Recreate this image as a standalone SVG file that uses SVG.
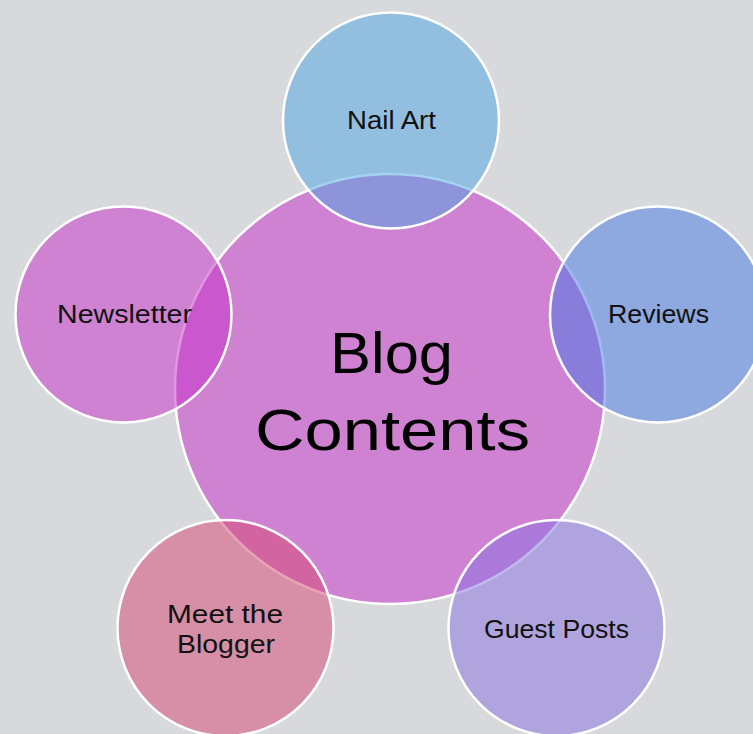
<svg xmlns="http://www.w3.org/2000/svg" width="753" height="734" viewBox="0 0 753 734">
  <style>
    .hub { fill: #cf82d2; stroke: #ffffff; stroke-width: 2.5; }
    .sat { stroke: #ffffff; stroke-width: 2.5; fill-opacity: 0.5; }
    .lbl { font-family: "Liberation Sans", Arial, sans-serif; font-size: 26px; fill: #111111; text-anchor: middle; }
    .big { font-family: "Liberation Sans", Arial, sans-serif; font-size: 58px; fill: #000000; text-anchor: middle; }
  </style>
  <rect x="0" y="0" width="753" height="734" fill="#d8d9dc"/>
  <g id="blog-contents">
    <circle class="hub" cx="390" cy="389" r="215"/>
    <text class="big" x="391.5" y="373" textLength="123" lengthAdjust="spacingAndGlyphs">Blog</text>
    <text class="big" x="392.5" y="450" textLength="275" lengthAdjust="spacingAndGlyphs">Contents</text>
  </g>
  <g id="nail-art">
    <circle class="sat" cx="391" cy="120.5" r="108" fill="#4ca5e2"/>
    <text class="lbl" x="391.5" y="129" textLength="89" lengthAdjust="spacingAndGlyphs">Nail Art</text>
  </g>
  <g id="reviews">
    <circle class="sat" cx="658" cy="314.5" r="108" fill="#4477e4"/>
    <text class="lbl" x="658.5" y="323" textLength="101" lengthAdjust="spacingAndGlyphs">Reviews</text>
  </g>
  <g id="newsletter">
    <circle class="sat" cx="123.5" cy="314.5" r="108" fill="#c62bc8"/>
    <text class="lbl" x="124.5" y="323" textLength="135" lengthAdjust="spacingAndGlyphs">Newsletter</text>
  </g>
  <g id="meet-the-blogger">
    <circle class="sat" cx="225.5" cy="628" r="108" fill="#d44570"/>
    <text class="lbl" x="225" y="623" textLength="116" lengthAdjust="spacingAndGlyphs">Meet the</text>
    <text class="lbl" x="226" y="653" textLength="98" lengthAdjust="spacingAndGlyphs">Blogger</text>
  </g>
  <g id="guest-posts">
    <circle class="sat" cx="556.5" cy="628" r="108" fill="#886fe0"/>
    <text class="lbl" x="556.5" y="638" textLength="145" lengthAdjust="spacingAndGlyphs">Guest Posts</text>
  </g>
</svg>
